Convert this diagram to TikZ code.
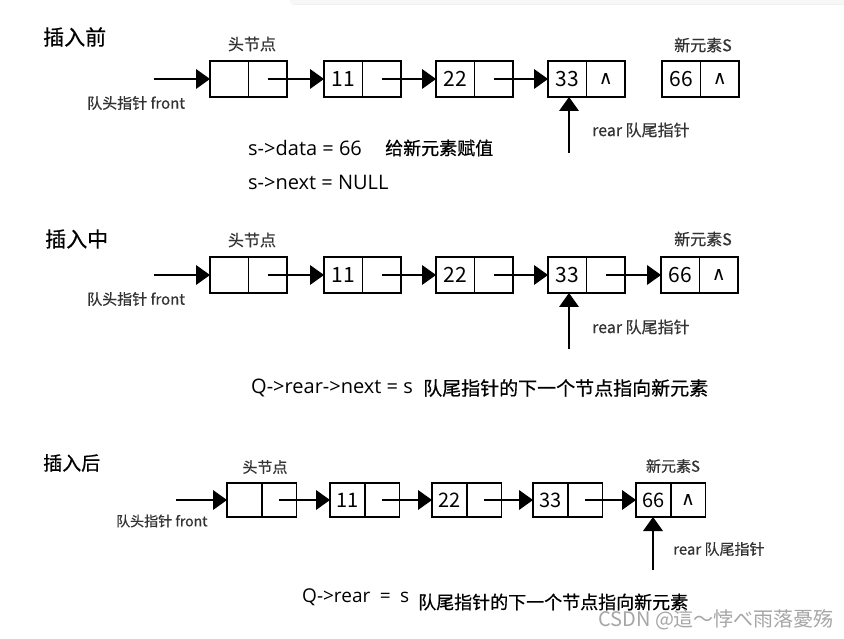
\documentclass[tikz,border=0pt]{standalone}
\usepackage{fontspec}
\setmainfont{Noto Sans CJK SC}
\newfontfamily\djfont{DejaVu Sans}
\newfontfamily\codefont{Open Sans}
\newfontfamily\boldcjk[FakeBold=0.6]{Noto Sans CJK SC}
\usetikzlibrary{arrows.meta}
\newcommand\lnode[6][cell]{%
  \node[#1, anchor=west] (#2d) at (#3,#4) {#5};
  \node[#1, anchor=west] (#2p) at (#2d.east) {#6};}
\newcommand\nul{{\djfont\fontsize{19}{19}\selectfont ∧}}
% horizontal link: line plus filled triangular head ending at the target
\newcommand\hlink[2]{%
  \draw[linkline] (#1) -- ([xshift=-12pt]#2);
  \fill (#2) -- ++(-14,-10) -- ++(0,20) -- cycle;}
% vertical link pointing up to the target
\newcommand\vlink[2]{%
  \draw[linkline] (#1) -- ([yshift=-12pt]#2);
  \fill (#2) -- ++(-10,14) -- ++(20,0) -- cycle;}
\begin{document}
\begin{tikzpicture}[x=1pt,y=-1pt,
  cell/.style={draw, line width=1.5pt, minimum width=38.5pt, minimum height=36pt,
    inner sep=0pt, outer sep=0pt, font=\fontsize{21}{21}\selectfont},
  smallcell/.style={cell, minimum width=34.75pt, minimum height=34pt, font=\fontsize{20}{20}\selectfont},
  linkline/.style={line width=1.5pt},
  title/.style={anchor=west, inner sep=0pt, font=\boldcjk\fontsize{21}{21}\selectfont},
  lbl/.style={inner sep=0pt, font=\boldcjk\fontsize{16}{16}\selectfont, text=black!80},
  code/.style={anchor=west, inner sep=0pt, font=\codefont\fontsize{20}{20}\selectfont},
  note/.style={anchor=west, inner sep=0pt, font=\boldcjk\fontsize{19}{19}\selectfont},
]
\useasboundingbox (0,0) rectangle (844,639);
\fill[white] (0,0) rectangle (844,639);
% top bar artefact
\fill[gray!6] (290,0) -- (290,1) [rounded corners=3pt] -- (290,4.5) -- (844,4.5) [sharp corners] -- (844,0) -- cycle;
\draw[gray!12, line width=0.6pt] (293,4.8) -- (844,4.8);

%%%%%%%%%% Row 1: 插入前
\node[title] (t1) at (43,37) {插入前};
\lnode{a0}{210}{79}{}{}
\lnode{a1}{324}{79}{11}{}
\lnode{a2}{436}{79}{22}{}
\lnode{a3}{548}{79}{33}{\nul}
\lnode{a4}{662}{79}{66}{\nul}
\node[lbl] (ah) at (252,44) {头节点};
\node[lbl] (as) at (703,45) {新元素S};
\coordinate (af) at (154,79);
\hlink{af}{a0d.west}
\hlink{a0p.center}{a1d.west}
\hlink{a1p.center}{a2d.west}
\hlink{a2p.center}{a3d.west}
\node[lbl, anchor=west, font=\boldcjk\fontsize{15}{15}\selectfont] (afl) at (87,103) {队头指针 front};
\coordinate (ar) at (569,153);
\vlink{ar}{ar |- a3d.south}
\node[lbl, anchor=west] (arl) at (592,130) {rear 队尾指针};
\node[code] (c1) at (248,148) {s->data = 66};
\node[note, font=\boldcjk\fontsize{18}{18}\selectfont] (c1n) at (385,148) {给新元素赋值};
\node[code] (c2) at (248,182) {s->next = NULL};

%%%%%%%%%% Row 2: 插入中
\node[title] (t2) at (45,239) {插入中};
\lnode{b0}{210}{275}{}{}
\lnode{b1}{324}{275}{11}{}
\lnode{b2}{436}{275}{22}{}
\lnode{b3}{548}{275}{33}{}
\lnode{b4}{661}{275}{66}{\nul}
\node[lbl] (bh) at (252,240) {头节点};
\node[lbl] (bs) at (703,239) {新元素S};
\coordinate (bf) at (154,275);
\hlink{bf}{b0d.west}
\hlink{b0p.center}{b1d.west}
\hlink{b1p.center}{b2d.west}
\hlink{b2p.center}{b3d.west}
\hlink{b3p.center}{b4d.west}
\node[lbl, anchor=west, font=\boldcjk\fontsize{15}{15}\selectfont] (bfl) at (87,299) {队头指针 front};
\coordinate (br) at (569,349);
\vlink{br}{br |- b3d.south}
\node[lbl, anchor=west] (brl) at (592,327) {rear 队尾指针};
\node[code] (c3) at (251,388) {Q->rear->next = s};
\node[note] (c3n) at (423,388) {队尾指针的下一个节点指向新元素};

%%%%%%%%%% Row 3: 插入后
\node[title, font=\boldcjk\fontsize{19}{19}\selectfont] (t3) at (43,463) {插入后};
\lnode[smallcell]{c0}{227}{500}{}{}
\lnode[smallcell]{c1}{330}{500}{11}{}
\lnode[smallcell]{c2}{432}{500}{22}{}
\lnode[smallcell]{c3}{533}{500}{33}{}
\lnode[smallcell]{c4}{636}{500}{66}{\nul}
\node[lbl, font=\boldcjk\fontsize{15}{15}\selectfont] (ch) at (265,467) {头节点};
\node[lbl, font=\boldcjk\fontsize{15}{15}\selectfont] (cs) at (673,466) {新元素S};
\coordinate (cf) at (176,500);
\hlink{cf}{c0d.west}
\hlink{c0p.center}{c1d.west}
\hlink{c1p.center}{c2d.west}
\hlink{c2p.center}{c3d.west}
\hlink{c3p.center}{c4d.west}
\node[lbl, anchor=west, font=\boldcjk\fontsize{14}{14}\selectfont] (cfl) at (116,521) {队头指针 front};
\coordinate (cr) at (653,570);
\vlink{cr}{cr |- c4d.south}
\node[lbl, anchor=west, font=\boldcjk\fontsize{15}{15}\selectfont] (crl) at (673,549) {rear 队尾指针};
\node[code, font=\codefont\fontsize{19}{19}\selectfont] (c5) at (302,597) {Q->rear\,\,\,=\,\,\,s};
\node[note, font=\boldcjk\fontsize{18}{18}\selectfont] (c5n) at (418,602) {队尾指针的下一个节点指向新元素};

%%%%%%%%%% watermark
\node[anchor=west, inner sep=0pt, text=black!35, font=\fontsize{20}{20}\selectfont] (wm) at (598,620) {CSDN @這～悖べ雨落憂殇};
\end{tikzpicture}
\end{document}
